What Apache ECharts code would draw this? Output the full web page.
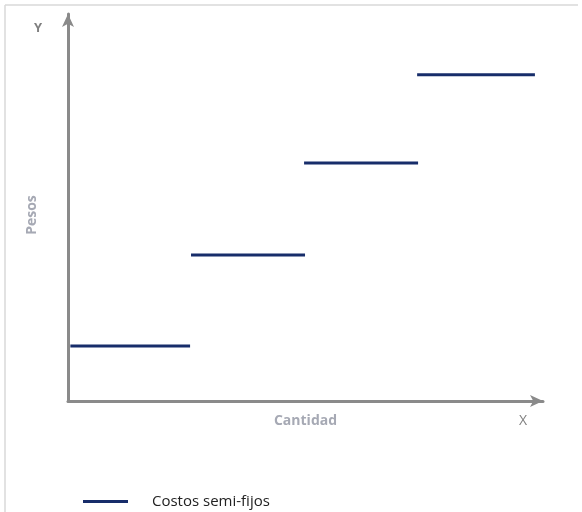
<!DOCTYPE html>
<html>
<head>
<meta charset="utf-8">
<script src="https://cdn.jsdelivr.net/npm/echarts@6/dist/echarts.min.js"></script>
<style>html,body{margin:0;padding:0;background:#fff;}#c{width:582px;height:512px;}</style>
</head>
<body>
<div id="c"></div>
<script>
// Step segments of the semi-fixed cost (x in % of quantity, y in % of pesos)
var seriesName = 'Costos semi-fijos';
var stepStarts = [0.5, 25.9, 49.7, 73.5];
var stepEnds   = [25.7, 49.9, 73.7, 98.3];
var stepLevels = [14.2, 37.7, 61.5, 84.3];

var chart = echarts.init(document.getElementById('c'));
var series = stepLevels.map(function (lv, i) {
  return {
    name: seriesName,
    type: 'line',
    symbol: 'none',
    silent: true,
    lineStyle: { color: '#172d6a', width: 3 },
    itemStyle: { color: '#172d6a' },
    data: [[stepStarts[i], lv], [stepEnds[i], lv]]
  };
});

chart.setOption({
  animation: false,
  backgroundColor: '#fff',
  grid: { left: 68, right: 39, top: 14, bottom: 111 },
  legend: {
    data: [seriesName],
    left: 78, top: 489,
    icon: 'rect', itemWidth: 45, itemHeight: 3,
    textStyle: { fontFamily: 'Open Sans', fontSize: 15, color: '#222', padding: [0, 0, 0, 19] }
  },
  xAxis: {
    type: 'value', min: 0, max: 100,
    name: 'Cantidad', nameLocation: 'middle', nameGap: 13,
    nameTextStyle: { fontFamily: 'Open Sans', fontSize: 14, fontWeight: 'bold', color: '#a6a9b4' },
    axisLine: { show: true, lineStyle: { color: '#8a8a8a', width: 3 }, symbol: ['none', 'arrow'], symbolSize: [9, 13] },
    axisTick: { show: false }, axisLabel: { show: false }, splitLine: { show: false }
  },
  yAxis: {
    type: 'value', min: 0, max: 100,
    axisLine: { show: true, lineStyle: { color: '#8a8a8a', width: 3 }, symbol: ['none', 'arrow'], symbolSize: [9, 13] },
    axisTick: { show: false }, axisLabel: { show: false }, splitLine: { show: false }
  },
  graphic: [
    { type: 'line', shape: { x1: 5, y1: 5, x2: 578, y2: 5 }, style: { stroke: '#d9d9d9', lineWidth: 1.5 } },
    { type: 'line', shape: { x1: 5, y1: 5, x2: 5, y2: 512 }, style: { stroke: '#d9d9d9', lineWidth: 1.5 } },
    { type: 'text', x: 32, y: 215, rotation: Math.PI / 2, style: { text: 'Pesos', align: 'center', verticalAlign: 'middle', fontFamily: 'Open Sans', fontSize: 14, fontWeight: 'bold', fill: '#a6a9b4' } },
    { type: 'text', left: 34, top: 22, style: { text: 'Y', fontFamily: 'Open Sans', fontSize: 13, fontWeight: 'bold', fill: '#808080' } },
    { type: 'text', left: 519, top: 414, style: { text: 'X', fontFamily: 'Open Sans', fontSize: 14, fill: '#808080' } }
  ],
  series: series
});
</script>
</body>
</html>
